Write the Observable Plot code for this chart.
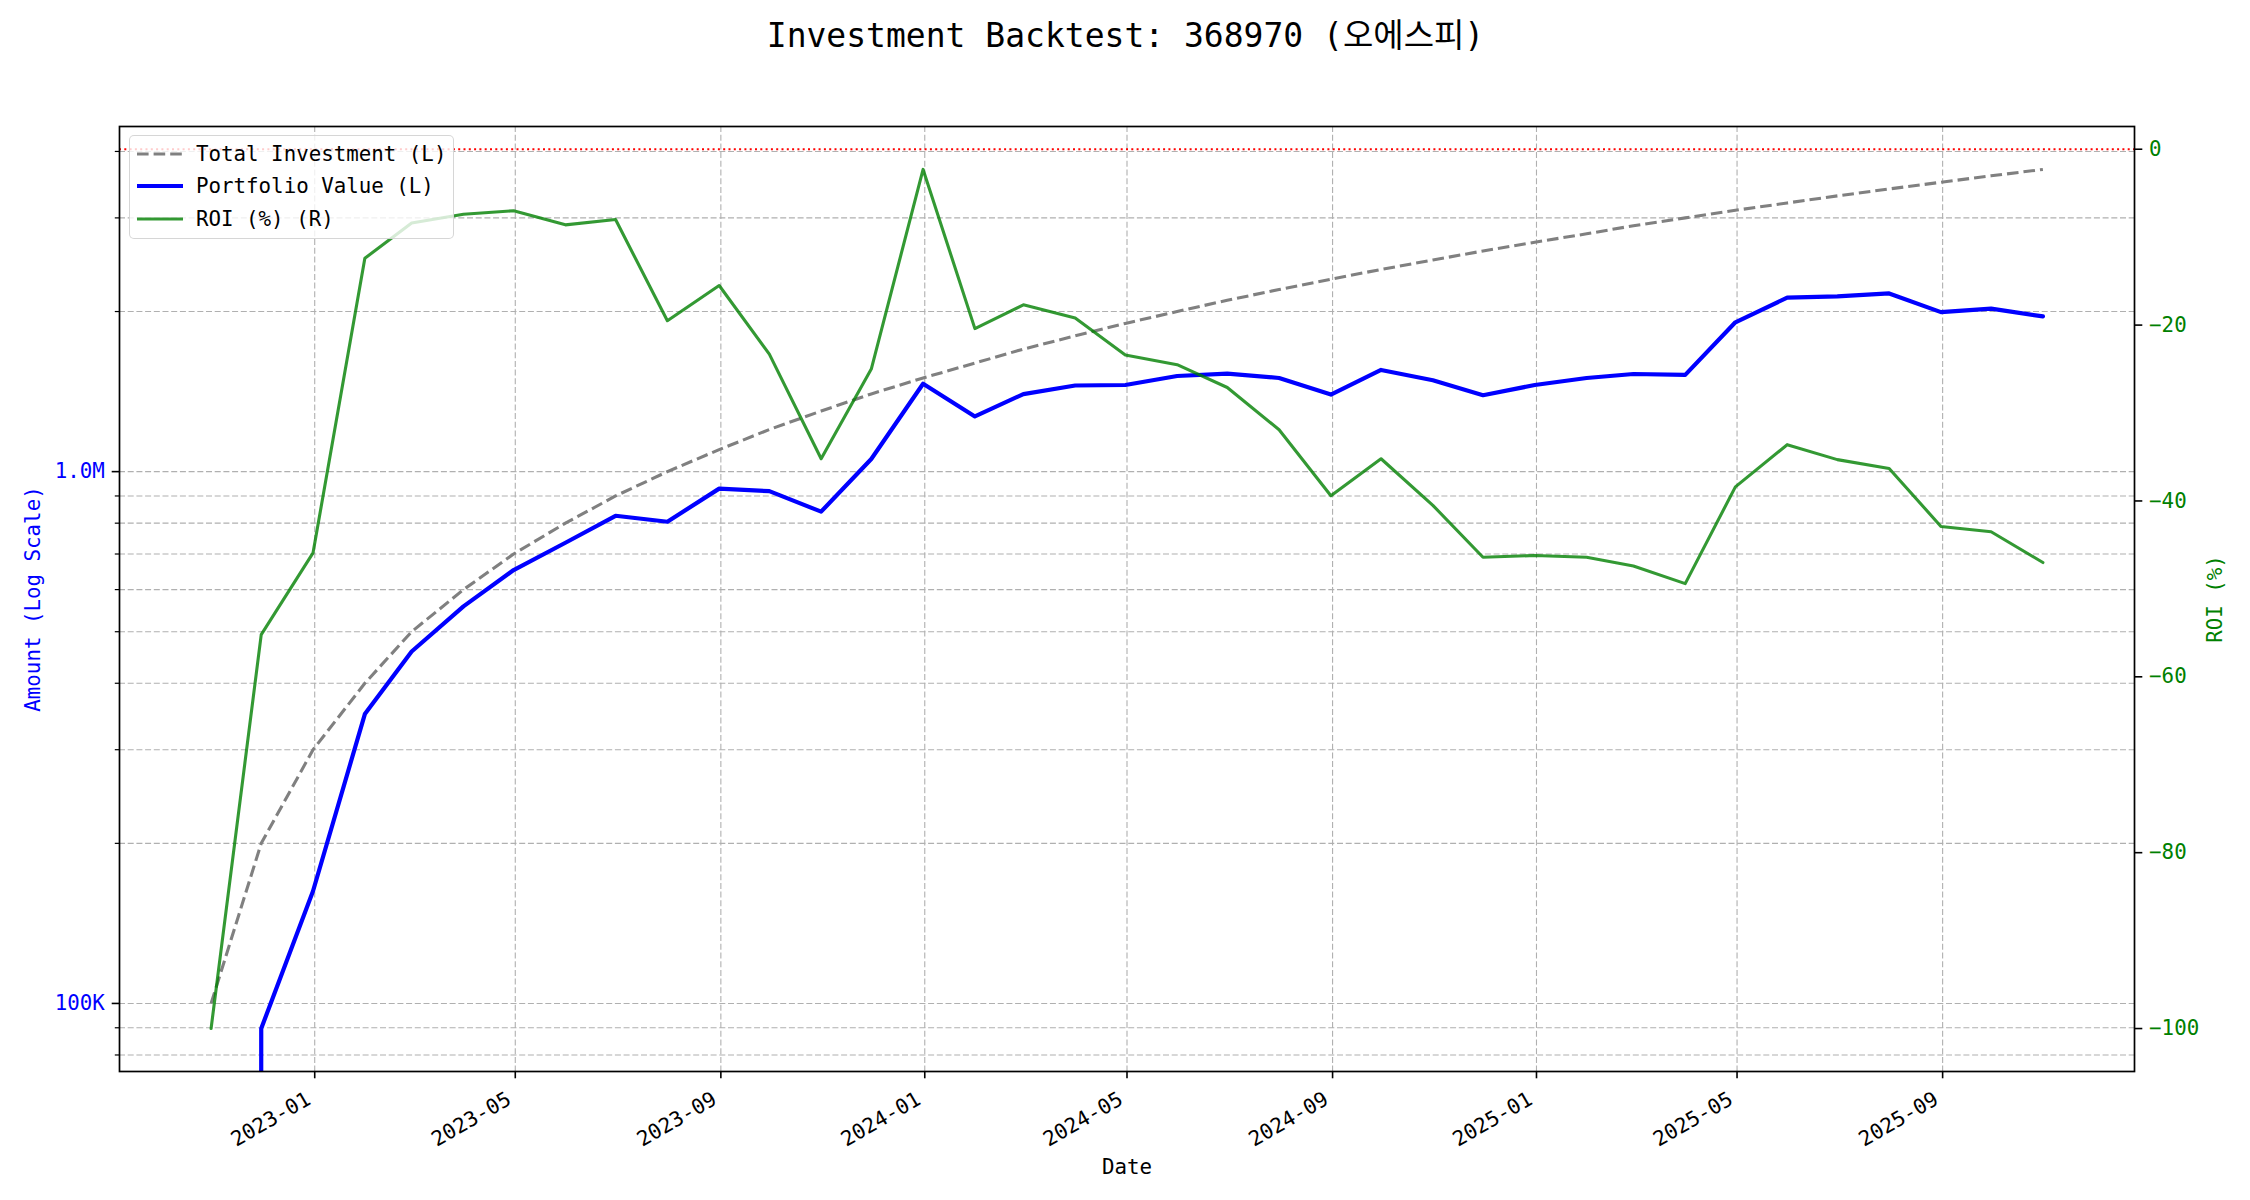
<!DOCTYPE html>
<html>
<head>
<meta charset="utf-8">
<script src="https://cdn.jsdelivr.net/npm/d3@7"></script>
<script src="https://cdn.jsdelivr.net/npm/@observablehq/plot@0.6"></script>
<style>
  body { margin: 0; background: #fff; }
  #wrap { position: relative; width: 2250px; height: 1200px; font-family: "DejaVu Sans Mono", "Noto Sans CJK KR", monospace; }
  #legend { position: absolute; left: 129px; top: 135px; width: 325px; height: 104px; box-sizing: border-box;
            border: 1.5px solid rgba(204,204,204,0.8); border-radius: 5px; background: rgba(255,255,255,0.8);
            font-size: 20.8px; color: #000; }
  .row { position: absolute; left: 0; height: 32px; display: flex; align-items: center; white-space: pre; }
</style>
</head>
<body>
<div id="wrap"></div>
<script>
// ---------- data ----------
const titleText = "Investment Backtest: 368970 (오에스피)";
const dates = ["2022-10-31","2022-11-30","2022-12-31","2023-01-31","2023-02-28","2023-03-31","2023-04-30",
  "2023-05-31","2023-06-30","2023-07-31","2023-08-31","2023-09-30","2023-10-31","2023-11-30","2023-12-31",
  "2024-01-31","2024-02-29","2024-03-31","2024-04-30","2024-05-31","2024-06-30","2024-07-31","2024-08-31",
  "2024-09-30","2024-10-31","2024-11-30","2024-12-31","2025-01-31","2025-02-28","2025-03-31","2025-04-30",
  "2025-05-31","2025-06-30","2025-07-31","2025-08-31","2025-09-30","2025-10-31"];
const totalInvestment = [100000,200000,300000,400000,500000,600000,700000,800000,900000,1000000,
  1100000,1200000,1300000,1400000,1500000,1600000,1700000,1800000,1900000,2000000,
  2100000,2200000,2300000,2400000,2500000,2600000,2700000,2800000,2900000,3000000,
  3100000,3200000,3300000,3400000,3500000,3600000,3700000];
const portfolioValue = [0,89700,162700,350000,459000,558000,653000,735000,826000,805000,
  929000,919000,841000,1056000,1463000,1270000,1399000,1452000,1455000,1513000,
  1529000,1500000,1396000,1553000,1485000,1392000,1455000,1500000,1526000,1520000,
  1909000,2124000,2135000,2163000,1995000,2026000,1958000];
const roi = [-100,-55.2,-45.9,-12.4,-8.4,-7.4,-7.0,-8.6,-8.0,-19.5,
  -15.5,-23.3,-35.2,-25.0,-2.3,-20.4,-17.7,-19.2,-23.4,-24.5,
  -27.1,-31.9,-39.4,-35.2,-40.5,-46.4,-46.2,-46.4,-47.4,-49.4,
  -38.4,-33.6,-35.3,-36.3,-42.9,-43.5,-47.0];

const xTickLabels = ["2023-01","2023-05","2023-09","2024-01","2024-05","2024-09","2025-01","2025-05","2025-09"];
const leftMajorTicks = [100000, 1000000];
const leftMajorLabels = ["100K", "1.0M"];
const leftMinorTicks = [80000, 90000, 200000, 300000, 400000, 500000, 600000, 700000, 800000, 900000, 2000000, 3000000, 4000000];
const roiTicks = [0, -20, -40, -60, -80, -100];
const roiTickLabels = ["0", "−20", "−40", "−60", "−80", "−100"];
const legendLabels = ["Total Investment (L)", "Portfolio Value (L)", "ROI (%) (R)"];
const xLabel = "Date", leftLabel = "Amount (Log Scale)", rightLabel = "ROI (%)";

// ---------- derived ----------
const parse = s => new Date(s + "T00:00:00Z");
const rows = dates.map((d, i) => ({date: parse(d), invest: totalInvestment[i], value: portfolioValue[i], roi: roi[i]}));
const xTicks = xTickLabels.map(s => parse(s + "-01"));

// matplotlib-like 5% margins
const t0 = +rows[0].date, t1 = +rows[rows.length - 1].date;
const xPad = (t1 - t0) * 0.05;
const xDomain = [new Date(t0 - xPad), new Date(t1 + xPad)];

const amounts = [...totalInvestment, ...portfolioValue].filter(v => v > 0);
const lmin = Math.log10(d3.min(amounts)), lmax = Math.log10(d3.max(amounts));
const lpad = (lmax - lmin) * 0.05;
const L0 = lmin - lpad, L1 = lmax + lpad;

const rmin = d3.min(roi), rmax = d3.max(roi);
const rpad = (rmax - rmin) * 0.05;
const R0 = rmin - rpad, R1 = rmax + rpad;
const toAmount = r => Math.pow(10, L0 + (r - R0) / (R1 - R0) * (L1 - L0));
const roiAmountTicks = roiTicks.map(toAmount);

const FONT = '"DejaVu Sans Mono", "Noto Sans CJK KR", monospace';
const grid = {stroke: "#b0b0b0", strokeWidth: 1.1, strokeDasharray: "6,2.7"};

const chart = Plot.plot({
  width: 2250,
  height: 1200,
  marginLeft: 119,
  marginRight: 116,
  marginTop: 126,
  marginBottom: 129,
  style: {fontFamily: FONT, fontSize: "20.8px", background: "#fff", color: "#000", overflow: "visible"},
  x: {type: "utc", domain: xDomain},
  y: {type: "log", domain: [Math.pow(10, L0), Math.pow(10, L1)]},
  marks: [
    // grid
    Plot.ruleY([...leftMajorTicks, ...leftMinorTicks], {...grid}),
    Plot.ruleX(xTicks, {...grid}),
    // zero ROI reference line (right axis)
    Plot.ruleY([0], {y: d => toAmount(d), stroke: "red", strokeWidth: 2, strokeDasharray: "2,3.3", strokeOpacity: 1}),
    // series
    Plot.line(rows, {x: "date", y: "invest", stroke: "gray", strokeWidth: 3.1, strokeDasharray: "11.6,5", strokeLinecap: "butt", clip: true}),
    Plot.line(rows, {x: "date", y: d => d.value > 0 ? d.value : 1e-300, stroke: "blue", strokeWidth: 4.2, clip: true}),
    Plot.line(rows, {x: "date", y: d => toAmount(d.roi), stroke: "green", strokeOpacity: 0.8, strokeWidth: 3.1, clip: true}),
    // frame
    Plot.frame({stroke: "black", strokeWidth: 1.7}),
    // x axis
    Plot.axisX({ticks: xTicks, tickSize: 7.3, stroke: "black", strokeWidth: 1.6, fill: "none", label: null}),
    Plot.text(xTicks, {x: d => d, text: (d, i) => xTickLabels[i], frameAnchor: "bottom", rotate: -30,
      textAnchor: "end", lineAnchor: "middle", dx: -6, dy: 26, fill: "black", fontSize: 20.8}),
    // left axis
    Plot.axisY({ticks: leftMajorTicks, anchor: "left", tickSize: 7.3, stroke: "black", strokeWidth: 1.6, fill: "none", label: null}),
    Plot.text(leftMajorTicks, {y: d => d, text: (d, i) => leftMajorLabels[i], frameAnchor: "left", dx: -14.6,
      textAnchor: "end", lineAnchor: "middle", fill: "blue", fontSize: 20.8}),
    Plot.axisY({ticks: leftMinorTicks, anchor: "left", tickSize: 4.2, stroke: "black", strokeWidth: 1.2, fill: "none", label: null}),
    // right axis
    Plot.axisY({ticks: roiAmountTicks, anchor: "right", tickSize: 7.3, stroke: "black", strokeWidth: 1.6, fill: "none", label: null}),
    Plot.text(roiTicks, {y: d => toAmount(d), text: (d, i) => roiTickLabels[i], frameAnchor: "right", dx: 14.6,
      textAnchor: "start", lineAnchor: "middle", fill: "green", fontSize: 20.8}),
    // axis titles
    Plot.text([xLabel], {frameAnchor: "bottom", dy: 96, lineAnchor: "middle", textAnchor: "middle", fill: "black", fontSize: 20.8}),
    Plot.text([leftLabel], {frameAnchor: "left", dx: -86.5, rotate: -90, lineAnchor: "middle", textAnchor: "middle", fill: "blue", fontSize: 20.8}),
    Plot.text([rightLabel], {frameAnchor: "right", dx: 81, rotate: -90, lineAnchor: "middle", textAnchor: "middle", fill: "green", fontSize: 20.8}),
    // title
    Plot.text([titleText], {frameAnchor: "top", dy: -90, dx: -1.5, lineAnchor: "middle", textAnchor: "middle", fill: "black", fontSize: 33})
  ]
});

const wrap = document.getElementById("wrap");
wrap.appendChild(chart);

// legend (upper left, like matplotlib)
const legend = document.createElement("div");
legend.id = "legend";
const legendStyles = [
  {stroke: "gray", width: 3.1, dash: "11.6,5", opacity: 1},
  {stroke: "blue", width: 4.2, dash: null, opacity: 1},
  {stroke: "green", width: 3.1, dash: null, opacity: 0.8}
];
legendLabels.forEach((lab, i) => {
  const row = document.createElement("div");
  row.className = "row";
  row.style.top = (1.5 + i * 32.8) + "px";
  const s = legendStyles[i];
  row.innerHTML = `<svg width="66" height="32" style="flex:none"><line x1="7" x2="53" y1="16" y2="16" stroke="${s.stroke}" stroke-width="${s.width}" stroke-opacity="${s.opacity}" ${s.dash ? `stroke-dasharray="${s.dash}"` : ""}/></svg><span></span>`;
  row.querySelector("span").textContent = lab;
  legend.appendChild(row);
});
wrap.appendChild(legend);
</script>
</body>
</html>
